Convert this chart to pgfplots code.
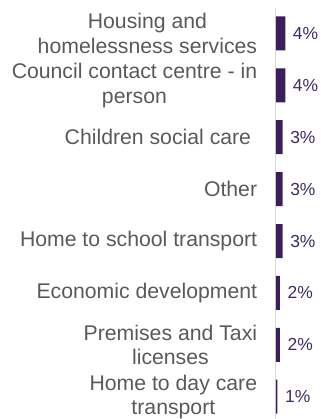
\documentclass[border=0pt]{standalone}
\usepackage{pgfplots}
\pgfplotsset{compat=1.18}
\usepackage{fontspec}
\setmainfont{Liberation Sans}
\definecolor{barpurple}{HTML}{3B1F5B}
\definecolor{valpurple}{HTML}{3F2A63}
\definecolor{labgray}{HTML}{595959}
\definecolor{axgray}{HTML}{D9D9D9}
\begin{document}
\begin{tikzpicture}
\path[use as bounding box] (0bp,0bp) rectangle (321bp,419bp);
\begin{axis}[
  at={(275.8bp,411.5bp)}, anchor=north west,
  scale only axis, width=9.5bp, height=415.2bp,
  xbar, bar width=34bp,
  xmin=0, xmax=4,
  ymin=-0.5, ymax=7.5, y dir=reverse,
  ytick={0,...,7},
  yticklabels={{Housing and\\homelessness services},{Council contact centre - in\\person},{Children social care\hspace*{6bp}},{Other},{Home to school transport},{Economic development},{Premises and Taxi\\licenses},{Home to day care\\transport}},
  hide x axis,
  axis y line*=left,
  y axis line style={axgray, line width=1bp},
  major tick length=0pt,
  yticklabel style={align=center, inner sep=0pt, xshift=-18.5bp, text=labgray, font=\fontsize{21.3}{24.5}\selectfont},
  clip=false,
  /pgf/number format/assume math mode=true,
  point meta=x,
  nodes near coords={\pgfmathprintnumber[fixed,precision=0,assume math mode=true]{\pgfplotspointmeta}\%},
  every node near coord/.append style={anchor=west, inner sep=0pt, xshift=7.5bp, text=valpurple, font=\fontsize{17.5}{20}\selectfont},
]
\addplot[fill=barpurple, draw=none] coordinates {
(4.0,0) (4.0,1) (2.85,2) (2.85,3) (2.85,4) (1.75,5) (1.75,6) (0.7,7)};
\end{axis}
\end{tikzpicture}
\end{document}
